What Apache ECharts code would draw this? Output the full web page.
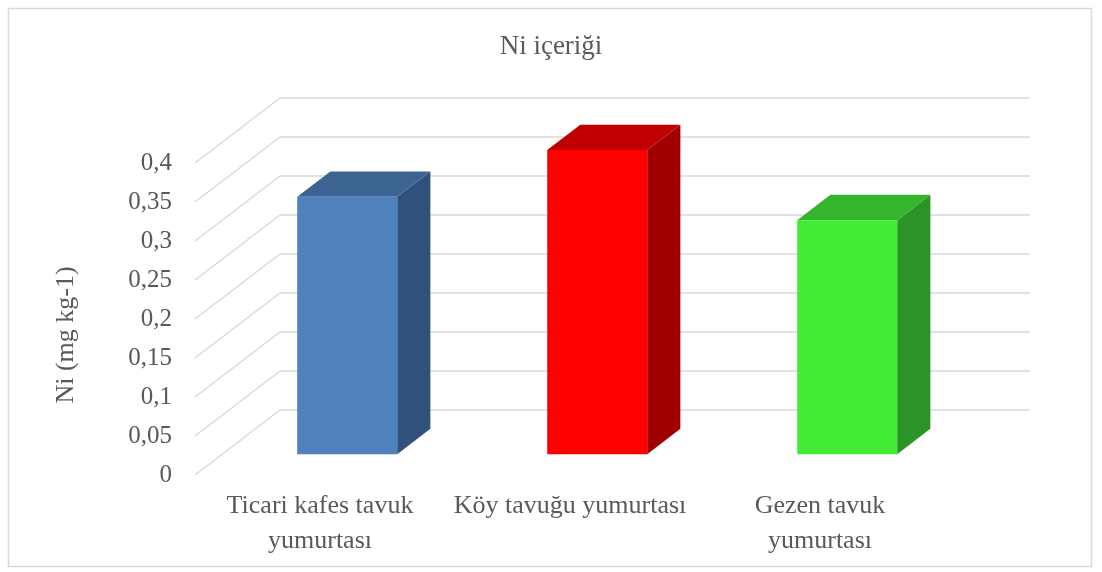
<!DOCTYPE html>
<html>
<head>
<meta charset="utf-8">
<script src="https://cdn.jsdelivr.net/npm/echarts@6/dist/echarts.min.js"></script>
<style>
  html, body { margin: 0; padding: 0; background: #fff; }
  #main { width: 1102px; height: 572px; }
</style>
</head>
<body>
<div id="main"></div>
<script>
/* data */
let categories = ['Ticari kafes tavuk\nyumurtası', 'Köy tavuğu yumurtası', 'Gezen tavuk\nyumurtası'];
let niValues = [0.33, 0.39, 0.30];
let yTicks = [0, 0.05, 0.1, 0.15, 0.2, 0.25, 0.3, 0.35, 0.4];

/* renk: ön yüz, üst yüz, yan yüz */
let faceColors = [
  ['#4f81bd', '#3c6492', '#30517a'],
  ['#ff0000', '#c00000', '#a00000'],
  ['#41eb36', '#35b52c', '#2c9427']
];

let font = '"Liberation Serif", "Times New Roman", serif';
let textColor = '#595959';
let gridColor = '#d9d9d9';

// derinlik (oblik izdüşüm) px
let depthX = 85;
let depthY = -65;
let barFront = 0.32;
let barBack = 0.71;

let chart = echarts.init(document.getElementById('main'));

let option = {
  animation: false,
  title: {
    text: 'Ni içeriği',
    left: 'center',
    top: 28,
    textStyle: { fontFamily: font, fontSize: 27, fontWeight: 'normal', color: textColor }
  },
  graphic: [
    {
      type: 'rect',
      shape: { x: 8.5, y: 8.5, width: 1083, height: 558 },
      style: { fill: null, stroke: gridColor, lineWidth: 1.5 },
      silent: true
    },
    {
      type: 'text',
      x: 66,
      y: 335,
      rotation: Math.PI / 2,
      style: {
        text: 'Ni (mg kg-1)',
        font: '26px ' + font,
        fill: textColor,
        textAlign: 'center',
        textVerticalAlign: 'middle'
      }
    }
  ],
  grid: [
    // ön düzlem
    { left: 195, right: 157, top: 163, bottom: 97 },
    // arka duvar
    { left: 195 + depthX, right: 157 - depthX, top: 163 + depthY, bottom: 97 - depthY }
  ],
  xAxis: [
    {
      type: 'category',
      gridIndex: 0,
      data: categories,
      axisLine: { show: false },
      axisTick: { show: false },
      axisLabel: {
        interval: 0,
        margin: 14,
        fontFamily: font,
        fontSize: 26,
        lineHeight: 35,
        color: textColor
      }
    },
    {
      type: 'category',
      gridIndex: 1,
      data: categories,
      show: false
    }
  ],
  yAxis: [
    {
      type: 'value',
      gridIndex: 0,
      min: 0,
      max: 0.4,
      interval: 0.05,
      axisLine: { show: false },
      axisTick: { show: false },
      splitLine: { show: false },
      axisLabel: {
        margin: 23,
        fontFamily: font,
        fontSize: 25,
        color: textColor,
        formatter: v => String(+v.toFixed(2)).replace('.', ',')
      }
    },
    {
      type: 'value',
      gridIndex: 1,
      min: 0,
      max: 0.4,
      interval: 0.05,
      axisLine: { show: false },
      axisTick: { show: false },
      axisLabel: { show: false },
      splitLine: { show: true, lineStyle: { color: gridColor, width: 1.5 } }
    }
  ],
  series: [
    {
      // yan duvar çizgileri
      type: 'custom',
      xAxisIndex: 0,
      yAxisIndex: 0,
      silent: true,
      z: 1,
      data: yTicks.map(v => [0, v]),
      renderItem: function (params, api) {
        let p = api.coord([0, api.value(1)]);
        let x0 = params.coordSys.x;
        return {
          type: 'line',
          shape: { x1: x0, y1: p[1], x2: x0 + depthX, y2: p[1] + depthY },
          style: { stroke: gridColor, lineWidth: 1.5 }
        };
      }
    },
    {
      // 3B sütunlar
      type: 'custom',
      xAxisIndex: 0,
      yAxisIndex: 0,
      z: 3,
      data: niValues.map((v, i) => [i, v]),
      renderItem: function (params, api) {
        let i = api.value(0);
        let base = api.coord([i, 0]);
        let top = api.coord([i, api.value(1)]);
        let w = api.size([1, 0])[0] * 0.4;
        let fx = base[0] - w / 2 + depthX * barFront;
        let fyB = base[1] + depthY * barFront;
        let fyT = top[1] + depthY * barFront;
        let dx = depthX * (barBack - barFront);
        let dy = depthY * (barBack - barFront);
        let c = faceColors[i];
        return {
          type: 'group',
          children: [
            {
              type: 'polygon',
              shape: { points: [[fx + w, fyT], [fx + w + dx, fyT + dy], [fx + w + dx, fyB + dy], [fx + w, fyB]] },
              style: { fill: c[2] }
            },
            {
              type: 'polygon',
              shape: { points: [[fx, fyT], [fx + dx, fyT + dy], [fx + w + dx, fyT + dy], [fx + w, fyT]] },
              style: { fill: c[1] }
            },
            {
              type: 'rect',
              shape: { x: fx, y: fyT, width: w, height: fyB - fyT },
              style: { fill: c[0] }
            }
          ]
        };
      }
    }
  ]
};

chart.setOption(option);
</script>
</body>
</html>
